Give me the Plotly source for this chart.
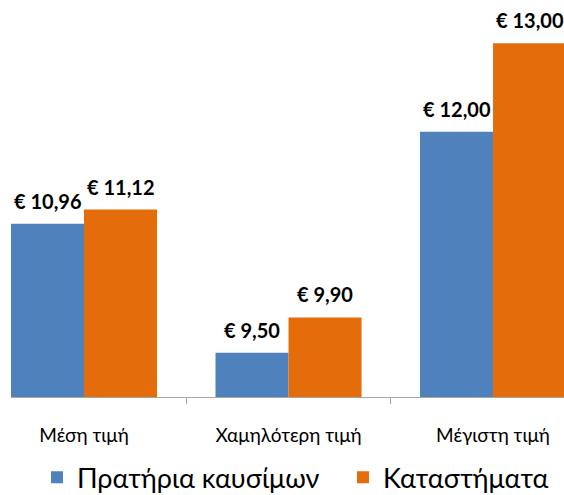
import plotly.graph_objects as go

categories = ["Μέση τιμή", "Χαμηλότερη τιμή", "Μέγιστη τιμή"]
series_names = ["Πρατήρια καυσίμων", "Καταστήματα"]
fuel_station = [10.96, 9.50, 12.00]
shops = [11.12, 9.90, 13.00]
colors = ["#4F81BD", "#E46C0A"]

FONT = "Lato, 'Noto Sans', sans-serif"
BAR_HALF_PX = 36.5  # half width of a bar in pixels (style offset for labels)

fig = go.Figure()
for i, (name, vals, col) in enumerate(zip(series_names, [fuel_station, shops], colors)):
    fig.add_trace(go.Bar(
        x=categories, y=vals, name=name,
        marker=dict(color=col, line=dict(width=0)),
        legend="legend" if i == 0 else "legend2",
    ))
    shift = -BAR_HALF_PX if i == 0 else BAR_HALF_PX
    for c, v in zip(categories, vals):
        fig.add_annotation(
            x=c, y=v, text=f"€ {v:.2f}".replace(".", ","),
            showarrow=False, xanchor="center", yanchor="bottom",
            xshift=shift, yshift=9,
            font=dict(family=FONT, size=20, color="#000000", weight="bold"),
        )

leg_common = dict(orientation="h", xref="container", yref="container",
                  xanchor="left", y=0.035, yanchor="middle",
                  font=dict(family=FONT, size=27, color="#000000"),
                  itemwidth=30, bgcolor="rgba(0,0,0,0)")

fig.update_layout(
    width=564, height=495,
    margin=dict(l=11, r=0, t=8, b=98, autoexpand=False),
    paper_bgcolor="white", plot_bgcolor="white",
    separators=",.",
    barmode="group", bargap=0.286, bargroupgap=0,
    showlegend=True,
    legend=dict(x=37 / 564, **leg_common),
    legend2=dict(x=343 / 564, **leg_common),
    font=dict(family=FONT, color="#000000"),
)
fig.update_xaxes(
    range=[-0.357, 2.347], showline=True, linecolor="#A6A6A6", linewidth=1,
    ticks="outside", tickson="boundaries", ticklen=6, tickcolor="#A6A6A6",
    tickfont=dict(family=FONT, size=19, color="#000000"),
    ticklabelstandoff=21, showgrid=False,
)
fig.update_yaxes(range=[9, 13.4], visible=False, showgrid=False)

fig.write_html("out.html", config={"displayModeBar": False},
               post_script="document.body.style.margin='0';document.body.style.padding='0';")
